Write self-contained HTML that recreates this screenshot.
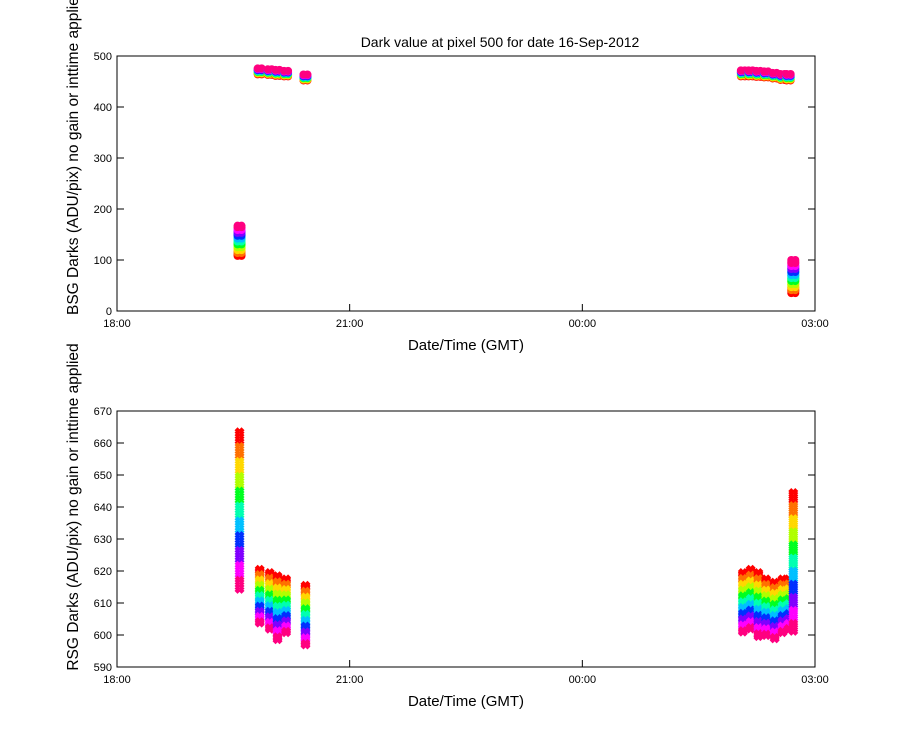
<!DOCTYPE html>
<html><head><meta charset="utf-8"><style>
body{margin:0;background:#fff}
svg{display:block;font-family:"Liberation Sans",sans-serif}
</style></head><body>
<svg id="chart" width="900" height="750" viewBox="0 0 900 750" xmlns="http://www.w3.org/2000/svg">
<rect width="900" height="750" fill="#fff"/>
<text x="500" y="47" font-size="14" text-anchor="middle">Dark value at pixel 500 for date 16-Sep-2012</text>
<g id="top"></g>
<g id="bot"></g>
</svg>
<script>
// time of each column, hours after 18:00
const colHours = [1.58, 1.84, 1.97, 2.07, 2.18, 2.43, 8.07, 8.17, 8.27, 8.37, 8.48, 8.58, 8.66, 8.72];
// BSG (top) band range per column: low (red) and high (pink)
const topLow  = [108, 464, 463, 461, 460, 452, 460, 460, 459, 458, 456, 453, 452, 35];
const topHigh = [170, 477, 475, 474, 472, 465, 473, 473, 472, 471, 468, 466, 466, 100];
// RSG (bottom) band range per column: high (red) and low (pink)
const botHigh = [664, 621, 620, 619, 618, 616, 620, 621, 620, 618, 617, 618, 618, 645];
const botLow  = [613, 603, 601, 598, 600, 596, 600, 601, 599, 599, 598, 600, 601, 600];
const topTicks = [0, 100, 200, 300, 400, 500];
const botTicks = [590, 600, 610, 620, 630, 640, 650, 660, 670];
const xTickHours = [0, 3, 6, 9];
const xTickLabels = ["18:00", "21:00", "00:00", "03:00"];
const colors = ["#ff0000","#ff7000","#ffd800","#b0ff00","#00ff20","#00ffb0","#00c0ff","#0030ff","#8000ff","#ff00ff","#ff0080"];

const NS = "http://www.w3.org/2000/svg";
const X0 = 117, X1 = 815;
const xs = h => X0 + (X1 - X0) * h / 9;
function mk(tag, attrs, parent){const e=document.createElementNS(NS,tag);for(const k in attrs)e.setAttribute(k,attrs[k]);parent.appendChild(e);return e;}

function panel(g, y0, y1, vmin, vmax, ticks, ylabel, clipLabel){
  const ys = v => y1 - (y1 - y0) * (v - vmin) / (vmax - vmin);
  const frame = mk("rect",{x:X0,y:y0,width:X1-X0,height:y1-y0,fill:"none",stroke:"#000","stroke-width":1},g);
  
  
  ticks.forEach(t=>{
    const y = ys(t);
    mk("line",{x1:X0,y1:y,x2:X0+7,y2:y,stroke:"#000"},g);
    mk("line",{x1:X1,y1:y,x2:X1-7,y2:y,stroke:"#000"},g);
    const tx = mk("text",{x:X0-5,y:y+4,"font-size":11,"text-anchor":"end"},g);
    tx.textContent = t;
    
    
  });
  xTickHours.forEach((h,i)=>{
    const x = xs(h);
    mk("line",{x1:x,y1:y1,x2:x,y2:y1-7,stroke:"#000"},g);
    const tx = mk("text",{x:x,y:y1+16,"font-size":11,"text-anchor":"middle"},g);
    tx.textContent = xTickLabels[i];
    
    
  });
  const xl = mk("text",{x:(X0+X1)/2,y:y1+39,"font-size":15,"text-anchor":"middle"},g);
  xl.textContent = "Date/Time (GMT)";
  
  
  const cy = clipLabel ? (y1+4) : 507;
  const yl = mk("text",{x:0,y:0,"font-size":15.5,"text-anchor":clipLabel?"start":"middle",transform:`translate(78,${cy}) rotate(-90)`},g);
  yl.textContent = ylabel;
  
  
  return ys;
}

const gt = document.getElementById("top"), gb = document.getElementById("bot");
const ysT = panel(gt, 56, 311, 0, 500, topTicks, "BSG Darks (ADU/pix) no gain or inttime applied", true);
const ysB = panel(gb, 411, 667, 590, 670, botTicks, "RSG Darks (ADU/pix) no gain or inttime applied", false);

function drawColumn(g, x, vA, vB, ys, r, shape){
  const n = colors.length;
  const pa = ys(vA), pb = ys(vB);
  const total = pb - pa;
  for(let b=0;b<n;b++){
    const s = pa + total*b/n, e = pa + total*(b+1)/n;
    const step = Math.sign(e-s) || 1;
    for(let y=s; (e-s)>=0 ? y<=e : y>=e; y+=step*Math.max(1.5,Math.abs(e-s)/6||1.5)){
      for(const dx of [-2,2]){
        let el;
        if(shape==="circle") el = mk("circle",{cx:x+dx,cy:y,r:r,fill:colors[b]},g);
        else el = mk("polygon",{points:`${x+dx},${y-r} ${x+dx+r},${y} ${x+dx},${y+r} ${x+dx-r},${y}`,fill:colors[b]},g);
        
        
      }
      if(Math.abs(e-s)<1.5) break;
    }
  }
}
const pts = document.createElementNS(NS,"g");


gt.appendChild(pts);
const ptsB = document.createElementNS(NS,"g");


gb.appendChild(ptsB);
colHours.forEach((h,i)=>{
  const x = xs(h);
  drawColumn(pts, x, topLow[i], topHigh[i], ysT, 4, "circle");
  drawColumn(ptsB, x, botHigh[i], botLow[i], ysB, 3, "diamond");
});
</script>
</body></html>
